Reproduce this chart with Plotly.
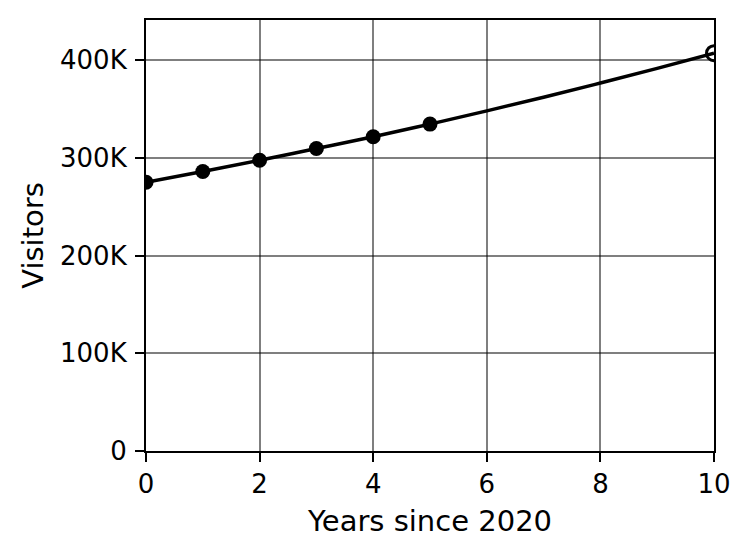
"""Visitors per year since 2020, with projection to 2030."""

import plotly.graph_objects as go

# observed visitors (years since 2020)
years_observed = [0, 1, 2, 3, 4, 5]
visitors_observed = [275000, 286000, 297500, 309500, 321500, 334500]

# trend line through the observed years and out to year 10
years_trend = [0, 1, 2, 3, 4, 5, 6, 7, 8, 9, 10]
visitors_trend = [275000, 286000, 297500, 309500, 321500, 334500,
                  348000, 362000, 376500, 391500, 407000]

# projected end point
years_projected = [10]
visitors_projected = [407000]

y_tick_vals = [0, 100000, 200000, 300000, 400000]
y_tick_text = ["0", "100K", "200K", "300K", "400K"]
x_tick_vals = [0, 2, 4, 6, 8, 10]

FONT = "DejaVu Sans"


def main():
    fig = go.Figure()
    fig.add_trace(go.Scatter(
        x=years_trend, y=visitors_trend, mode="lines",
        line=dict(color="black", width=3.5, shape="spline"), showlegend=False,
    ))
    fig.add_trace(go.Scatter(
        x=years_observed, y=visitors_observed, mode="markers",
        marker=dict(color="black", size=15), showlegend=False,
    ))
    fig.add_trace(go.Scatter(
        x=years_projected, y=visitors_projected, mode="markers",
        marker=dict(symbol="circle-open", color="black", size=15,
                    line=dict(width=3, color="black")),
        showlegend=False,
    ))

    axis_style = dict(
        showline=True, linecolor="black", linewidth=2.2, mirror=True,
        ticks="outside", ticklen=9, tickwidth=2, tickcolor="black",
        showgrid=True, gridcolor="rgba(0,0,0,0.5)", gridwidth=1.5,
        zeroline=False, tickfont=dict(family=FONT, size=26, color="black"),
    )

    fig.update_xaxes(
        range=[0, 10], tickvals=x_tick_vals,
        title=dict(text="Years since 2020", font=dict(family=FONT, size=29, color="black"),
                   standoff=12),
        **axis_style,
    )
    fig.update_yaxes(
        range=[0, 441000], tickvals=y_tick_vals, ticktext=y_tick_text,
        ticklabelstandoff=3,
        title=dict(text="Visitors", font=dict(family=FONT, size=29, color="black"),
                   standoff=8),
        **axis_style,
    )

    # the page puts the plot 8px in from the top-left corner
    fig.update_layout(
        width=750, height=555,
        margin=dict(l=138, r=44, t=10, b=112),
        plot_bgcolor="white", paper_bgcolor="white",
        font=dict(family=FONT, color="black"),
    )

    fig.write_html("out.html")


if __name__ == "__main__":
    main()
